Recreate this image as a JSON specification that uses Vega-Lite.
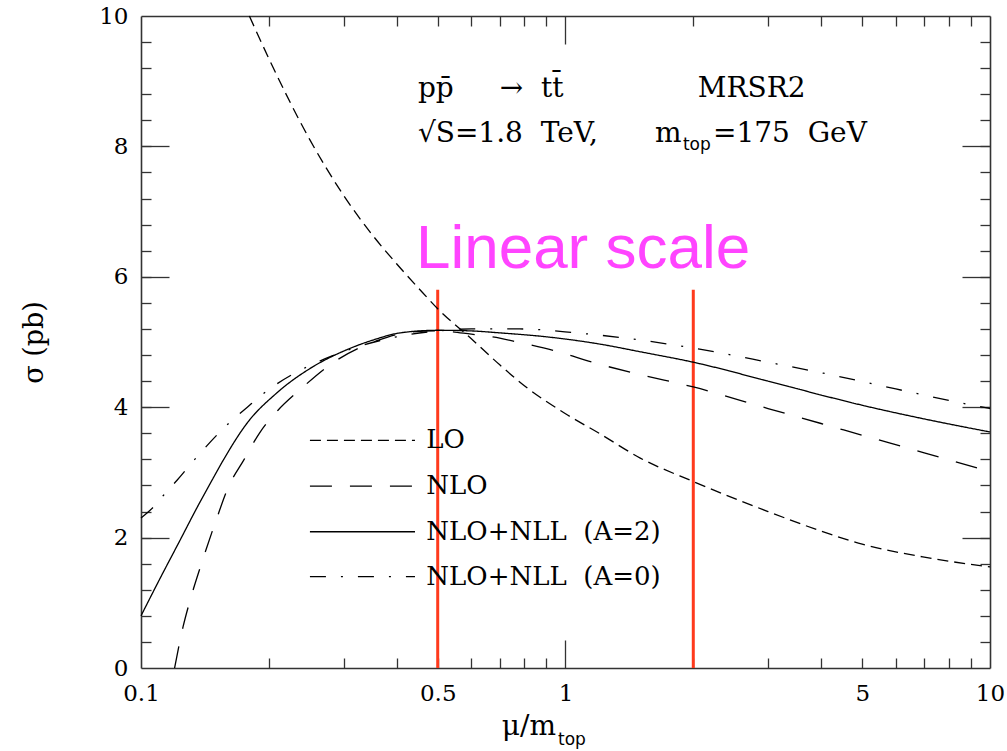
{
  "$schema": "https://vega.github.io/schema/vega-lite/v6.json",
  "width": 849,
  "height": 652,
  "autosize": {"type": "none"},
  "padding": {"left": 141, "top": 16, "right": 17, "bottom": 83},
  "background": "white",
  "config": {
    "view": {"stroke": null},
    "axis": {
      "grid": false,
      "labelFont": "DejaVu Serif",
      "labelFontSize": 23,
      "labelColor": "black",
      "domainColor": "#333333",
      "domainWidth": 1.6,
      "tickColor": "#333333",
      "tickWidth": 1.3,
      "labelFlush": false,
      "labelOverlap": false,
      "titleFont": "DejaVu Serif",
      "titleFontWeight": "normal",
      "titleColor": "black"
    }
  },
  "datasets": {
    "curves": [
      {"series": "LO", "mu": 0.18, "sigma": 10.0},
      {"series": "LO", "mu": 0.2, "sigma": 9.35},
      {"series": "LO", "mu": 0.25, "sigma": 8.1},
      {"series": "LO", "mu": 0.3, "sigma": 7.25},
      {"series": "LO", "mu": 0.35, "sigma": 6.65},
      {"series": "LO", "mu": 0.4, "sigma": 6.2},
      {"series": "LO", "mu": 0.45, "sigma": 5.83},
      {"series": "LO", "mu": 0.5, "sigma": 5.51},
      {"series": "LO", "mu": 0.6, "sigma": 5.05},
      {"series": "LO", "mu": 0.7, "sigma": 4.65},
      {"series": "LO", "mu": 0.8, "sigma": 4.33},
      {"series": "LO", "mu": 1.0, "sigma": 3.9},
      {"series": "LO", "mu": 1.2, "sigma": 3.6},
      {"series": "LO", "mu": 1.5, "sigma": 3.22},
      {"series": "LO", "mu": 2.0, "sigma": 2.86},
      {"series": "LO", "mu": 3.0, "sigma": 2.4},
      {"series": "LO", "mu": 4.0, "sigma": 2.1},
      {"series": "LO", "mu": 5.0, "sigma": 1.9},
      {"series": "LO", "mu": 7.0, "sigma": 1.7},
      {"series": "LO", "mu": 10.0, "sigma": 1.55},

      {"series": "NLO", "mu": 0.12, "sigma": 0.0},
      {"series": "NLO", "mu": 0.1256, "sigma": 0.63},
      {"series": "NLO", "mu": 0.13, "sigma": 1.0},
      {"series": "NLO", "mu": 0.138, "sigma": 1.55},
      {"series": "NLO", "mu": 0.15, "sigma": 2.25},
      {"series": "NLO", "mu": 0.16, "sigma": 2.75},
      {"series": "NLO", "mu": 0.175, "sigma": 3.2},
      {"series": "NLO", "mu": 0.19, "sigma": 3.6},
      {"series": "NLO", "mu": 0.21, "sigma": 3.95},
      {"series": "NLO", "mu": 0.237, "sigma": 4.27},
      {"series": "NLO", "mu": 0.283, "sigma": 4.68},
      {"series": "NLO", "mu": 0.36, "sigma": 5.02},
      {"series": "NLO", "mu": 0.43, "sigma": 5.15},
      {"series": "NLO", "mu": 0.5, "sigma": 5.17},
      {"series": "NLO", "mu": 0.6, "sigma": 5.12},
      {"series": "NLO", "mu": 0.7, "sigma": 5.06},
      {"series": "NLO", "mu": 0.77, "sigma": 5.0},
      {"series": "NLO", "mu": 0.95, "sigma": 4.86},
      {"series": "NLO", "mu": 1.17, "sigma": 4.68},
      {"series": "NLO", "mu": 1.5, "sigma": 4.5},
      {"series": "NLO", "mu": 2.0, "sigma": 4.31},
      {"series": "NLO", "mu": 3.0, "sigma": 3.98},
      {"series": "NLO", "mu": 4.0, "sigma": 3.75},
      {"series": "NLO", "mu": 5.0, "sigma": 3.57},
      {"series": "NLO", "mu": 7.0, "sigma": 3.3},
      {"series": "NLO", "mu": 10.0, "sigma": 3.01},

      {"series": "NLO+NLL (A=2)", "mu": 0.1, "sigma": 0.8},
      {"series": "NLO+NLL (A=2)", "mu": 0.11, "sigma": 1.33},
      {"series": "NLO+NLL (A=2)", "mu": 0.1236, "sigma": 1.96},
      {"series": "NLO+NLL (A=2)", "mu": 0.135, "sigma": 2.44},
      {"series": "NLO+NLL (A=2)", "mu": 0.147, "sigma": 2.88},
      {"series": "NLO+NLL (A=2)", "mu": 0.156, "sigma": 3.18},
      {"series": "NLO+NLL (A=2)", "mu": 0.178, "sigma": 3.76},
      {"series": "NLO+NLL (A=2)", "mu": 0.209, "sigma": 4.22},
      {"series": "NLO+NLL (A=2)", "mu": 0.254, "sigma": 4.62},
      {"series": "NLO+NLL (A=2)", "mu": 0.3, "sigma": 4.86},
      {"series": "NLO+NLL (A=2)", "mu": 0.352, "sigma": 5.03},
      {"series": "NLO+NLL (A=2)", "mu": 0.408, "sigma": 5.14},
      {"series": "NLO+NLL (A=2)", "mu": 0.5, "sigma": 5.18},
      {"series": "NLO+NLL (A=2)", "mu": 0.6, "sigma": 5.17},
      {"series": "NLO+NLL (A=2)", "mu": 0.7, "sigma": 5.14},
      {"series": "NLO+NLL (A=2)", "mu": 0.9, "sigma": 5.08},
      {"series": "NLO+NLL (A=2)", "mu": 1.2, "sigma": 4.97},
      {"series": "NLO+NLL (A=2)", "mu": 1.5, "sigma": 4.85},
      {"series": "NLO+NLL (A=2)", "mu": 2.0, "sigma": 4.69},
      {"series": "NLO+NLL (A=2)", "mu": 3.0, "sigma": 4.4},
      {"series": "NLO+NLL (A=2)", "mu": 4.27, "sigma": 4.14},
      {"series": "NLO+NLL (A=2)", "mu": 5.0, "sigma": 4.03},
      {"series": "NLO+NLL (A=2)", "mu": 7.0, "sigma": 3.82},
      {"series": "NLO+NLL (A=2)", "mu": 10.0, "sigma": 3.62},

      {"series": "NLO+NLL (A=0)", "mu": 0.1, "sigma": 2.3},
      {"series": "NLO+NLL (A=0)", "mu": 0.107, "sigma": 2.47},
      {"series": "NLO+NLL (A=0)", "mu": 0.113, "sigma": 2.65},
      {"series": "NLO+NLL (A=0)", "mu": 0.1216, "sigma": 2.88},
      {"series": "NLO+NLL (A=0)", "mu": 0.1355, "sigma": 3.24},
      {"series": "NLO+NLL (A=0)", "mu": 0.162, "sigma": 3.77},
      {"series": "NLO+NLL (A=0)", "mu": 0.178, "sigma": 4.0},
      {"series": "NLO+NLL (A=0)", "mu": 0.199, "sigma": 4.26},
      {"series": "NLO+NLL (A=0)", "mu": 0.25, "sigma": 4.64},
      {"series": "NLO+NLL (A=0)", "mu": 0.283, "sigma": 4.79},
      {"series": "NLO+NLL (A=0)", "mu": 0.322, "sigma": 4.92},
      {"series": "NLO+NLL (A=0)", "mu": 0.4, "sigma": 5.08},
      {"series": "NLO+NLL (A=0)", "mu": 0.5, "sigma": 5.17},
      {"series": "NLO+NLL (A=0)", "mu": 0.6, "sigma": 5.2},
      {"series": "NLO+NLL (A=0)", "mu": 0.78, "sigma": 5.2},
      {"series": "NLO+NLL (A=0)", "mu": 1.06, "sigma": 5.14},
      {"series": "NLO+NLL (A=0)", "mu": 1.5, "sigma": 5.03},
      {"series": "NLO+NLL (A=0)", "mu": 2.07, "sigma": 4.89},
      {"series": "NLO+NLL (A=0)", "mu": 3.0, "sigma": 4.69},
      {"series": "NLO+NLL (A=0)", "mu": 4.27, "sigma": 4.49},
      {"series": "NLO+NLL (A=0)", "mu": 6.0, "sigma": 4.28},
      {"series": "NLO+NLL (A=0)", "mu": 9.1, "sigma": 4.03},
      {"series": "NLO+NLL (A=0)", "mu": 10.0, "sigma": 3.98}
    ],
    "redlines": [
      {"mu": 0.5, "lo": 0, "hi": 5.8},
      {"mu": 2.0, "lo": 0, "hi": 5.8}
    ],
    "legendlines": [
      {"series": "LO", "mu": 0.25, "sigma": 3.49},
      {"series": "LO", "mu": 0.442, "sigma": 3.49},
      {"series": "NLO", "mu": 0.25, "sigma": 2.79},
      {"series": "NLO", "mu": 0.442, "sigma": 2.79},
      {"series": "NLO+NLL (A=2)", "mu": 0.25, "sigma": 2.09},
      {"series": "NLO+NLL (A=2)", "mu": 0.442, "sigma": 2.09},
      {"series": "NLO+NLL (A=0)", "mu": 0.25, "sigma": 1.4},
      {"series": "NLO+NLL (A=0)", "mu": 0.442, "sigma": 1.4}
    ],
    "legendtext": [
      {"mu": 0.47, "sigma": 3.49, "label": "LO"},
      {"mu": 0.47, "sigma": 2.79, "label": "NLO"},
      {"mu": 0.47, "sigma": 2.09, "label": "NLO+NLL\u00a0\u00a0(A=2)"},
      {"mu": 0.47, "sigma": 1.4, "label": "NLO+NLL\u00a0\u00a0(A=0)"}
    ],
    "annot": [
      {"mu": 0.449, "sigma": 8.76, "txt": "pp̄"},
      {"mu": 0.70, "sigma": 8.76, "txt": "→\u00a0\u00a0tt̄"},
      {"mu": 2.05, "sigma": 8.76, "txt": "MRSR2"},
      {"mu": 0.449, "sigma": 8.07, "txt": "√S=1.8\u00a0\u00a0TeV,"},
      {"mu": 1.625, "sigma": 8.07, "txt": "m"},
      {"mu": 2.226, "sigma": 8.07, "txt": "=175\u00a0\u00a0GeV"}
    ],
    "subs": [
      {"mu": 1.891, "sigma": 7.94, "txt": "top"},
      {"mu": 0.96, "sigma": -1.18, "txt": "top"}
    ],
    "xtitle": [
      {"mu": 0.95, "sigma": -1.03, "txt": "μ/m"}
    ],
    "bigtext": [
      {"mu": 1.10, "sigma": 6.13, "txt": "Linear scale"}
    ]
  },
  "layer": [
    {
      "data": {"name": "redlines"},
      "mark": {"type": "rule", "color": "#ff3a1c", "strokeWidth": 3},
      "encoding": {
        "x": {"field": "mu", "type": "quantitative", "scale": {"type": "log", "domain": [0.1, 10], "nice": false},
              "axis": {"orient": "bottom", "values": [0.2,0.3,0.4,0.5,0.6,0.7,0.8,0.9,2,3,4,5,6,7,8,9], "tickSize": -10, "labels": false, "domain": false, "title": null}},
        "y": {"field": "lo", "type": "quantitative", "scale": {"domain": [0, 10], "nice": false, "zero": false},
              "axis": {"orient": "left", "values": [0.4,0.8,1.2,1.6,2,2.4,2.8,3.2,3.6,4,4.4,4.8,5.2,5.6,6,6.4,6.8,7.2,7.6,8,8.4,8.8,9.2,9.6], "tickSize": -10, "labels": false, "domain": false, "title": null}},
        "y2": {"field": "hi"}
      }
    },
    {
      "data": {"name": "curves"},
      "mark": {"type": "line", "color": "black", "strokeWidth": 1.3, "interpolate": "monotone"},
      "encoding": {
        "x": {"field": "mu", "type": "quantitative", "scale": {"type": "log", "domain": [0.1, 10], "nice": false},
              "axis": {"orient": "bottom", "values": [0.1, 0.5, 1, 5, 10], "ticks": false, "labelPadding": 14, "labelExpr": "format(datum.value, '~g')", "title": null}},
        "y": {"field": "sigma", "type": "quantitative", "scale": {"domain": [0, 10], "nice": false, "zero": false},
              "axis": {"orient": "left", "values": [0, 2, 4, 6, 8, 10], "ticks": false, "labelPadding": 13, "labelExpr": "format(datum.value, '~g')", "title": "σ (pb)", "titleFontSize": 27, "titlePadding": 50}},
        "strokeDash": {"field": "series", "type": "nominal",
                       "scale": {"domain": ["LO", "NLO", "NLO+NLL (A=2)", "NLO+NLL (A=0)"], "range": [[11, 6], [22, 18], [1, 0], [16, 15, 2, 15]]},
                       "legend": null}
      }
    },
    {
      "data": {"name": "legendlines"},
      "mark": {"type": "line", "color": "black", "strokeWidth": 1.3},
      "encoding": {
        "x": {"field": "mu", "type": "quantitative", "scale": {"type": "log", "domain": [0.1, 10], "nice": false},
              "axis": {"orient": "bottom", "values": [1], "tickSize": -28, "labels": false, "domain": false, "title": null}},
        "y": {"field": "sigma", "type": "quantitative", "scale": {"domain": [0, 10], "nice": false, "zero": false},
              "axis": {"orient": "left", "values": [2, 4, 6, 8], "tickSize": -28, "labels": false, "domain": false, "title": null}},
        "strokeDash": {"field": "series", "type": "nominal",
                       "scale": {"domain": ["LO", "NLO", "NLO+NLL (A=2)", "NLO+NLL (A=0)"], "range": [[11, 6], [22, 18], [1, 0], [16, 15, 2, 15]]},
                       "legend": null}
      }
    },
    {
      "data": {"name": "legendtext"},
      "mark": {"type": "text", "align": "left", "baseline": "middle", "font": "DejaVu Serif", "fontSize": 26, "color": "black"},
      "encoding": {
        "x": {"field": "mu", "type": "quantitative", "scale": {"type": "log", "domain": [0.1, 10], "nice": false},
              "axis": {"orient": "top", "values": [0.2,0.3,0.4,0.5,0.6,0.7,0.8,0.9,2,3,4,5,6,7,8,9], "tickSize": -10, "labels": false, "domain": true, "title": null}},
        "y": {"field": "sigma", "type": "quantitative", "scale": {"domain": [0, 10], "nice": false, "zero": false},
              "axis": {"orient": "right", "values": [0.4,0.8,1.2,1.6,2,2.4,2.8,3.2,3.6,4,4.4,4.8,5.2,5.6,6,6.4,6.8,7.2,7.6,8,8.4,8.8,9.2,9.6], "tickSize": -10, "labels": false, "domain": true, "title": null}},
        "text": {"field": "label"}
      }
    },
    {
      "data": {"name": "annot"},
      "mark": {"type": "text", "align": "left", "baseline": "alphabetic", "font": "DejaVu Serif", "fontSize": 28, "color": "black"},
      "encoding": {
        "x": {"field": "mu", "type": "quantitative", "scale": {"type": "log", "domain": [0.1, 10], "nice": false},
              "axis": {"orient": "top", "values": [1], "tickSize": -28, "labels": false, "domain": false, "title": null}},
        "y": {"field": "sigma", "type": "quantitative", "scale": {"domain": [0, 10], "nice": false, "zero": false},
              "axis": {"orient": "right", "values": [2, 4, 6, 8], "tickSize": -28, "labels": false, "domain": false, "title": null}},
        "text": {"field": "txt"}
      }
    },
    {
      "data": {"name": "subs"},
      "mark": {"type": "text", "align": "left", "baseline": "alphabetic", "font": "DejaVu Sans", "fontSize": 17, "color": "black"},
      "encoding": {
        "x": {"field": "mu", "type": "quantitative", "scale": {"type": "log", "domain": [0.1, 10], "nice": false}, "axis": null},
        "y": {"field": "sigma", "type": "quantitative", "scale": {"domain": [0, 10], "nice": false, "zero": false}, "axis": null},
        "text": {"field": "txt"}
      }
    },
    {
      "data": {"name": "xtitle"},
      "mark": {"type": "text", "align": "right", "baseline": "alphabetic", "font": "DejaVu Serif", "fontSize": 28, "color": "black"},
      "encoding": {
        "x": {"field": "mu", "type": "quantitative", "scale": {"type": "log", "domain": [0.1, 10], "nice": false}, "axis": null},
        "y": {"field": "sigma", "type": "quantitative", "scale": {"domain": [0, 10], "nice": false, "zero": false}, "axis": null},
        "text": {"field": "txt"}
      }
    },
    {
      "data": {"name": "bigtext"},
      "mark": {"type": "text", "align": "center", "baseline": "alphabetic", "font": "Liberation Sans", "fontSize": 62, "color": "#ff44ff"},
      "encoding": {
        "x": {"field": "mu", "type": "quantitative", "scale": {"type": "log", "domain": [0.1, 10], "nice": false}, "axis": null},
        "y": {"field": "sigma", "type": "quantitative", "scale": {"domain": [0, 10], "nice": false, "zero": false}, "axis": null},
        "text": {"field": "txt"}
      }
    }
  ],
  "resolve": {"axis": {"x": "independent", "y": "independent"}}
}
